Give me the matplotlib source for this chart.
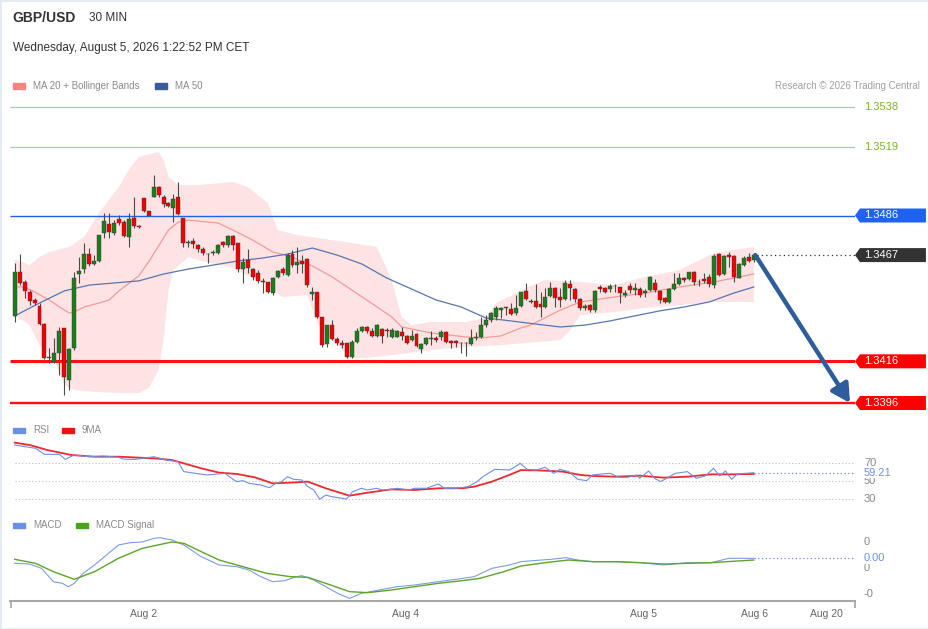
import numpy as np
import matplotlib
matplotlib.use("Agg")
import matplotlib.pyplot as plt
from matplotlib.patches import Rectangle, Polygon, FancyArrowPatch

plt.rcParams['font.family'] = ['Liberation Sans', 'DejaVu Sans']

# ------ Bougies 30 min GBP/USD ------
opens = [
    1.34378, 1.34589, 1.34541, 1.34493, 1.34454, 1.34426, 1.34339, 1.34176, 1.34157, 1.34200,
    1.34320, 1.34070, 1.34224, 1.34579, 1.34603, 1.34675, 1.34627, 1.34642, 1.34776, 1.34819,
    1.34776, 1.34843, 1.34829, 1.34757, 1.34848, 1.34810, 1.34944, 1.34882, 1.34949, 1.34997,
    1.34949, 1.34920, 1.34896, 1.34949, 1.34848, 1.34728, 1.34738, 1.34718, 1.34699, 1.34675,
    1.34680, 1.34680, 1.34733, 1.34718, 1.34762, 1.34728, 1.34603, 1.34646, 1.34603, 1.34584,
    1.34546, 1.34541, 1.34488, 1.34565, 1.34603, 1.34574, 1.34675, 1.34622, 1.34642, 1.34651,
    1.34483, 1.34493, 1.34373, 1.34243, 1.34334, 1.34267, 1.34248, 1.34248, 1.34181, 1.34253,
    1.34306, 1.34325, 1.34306, 1.34282, 1.34315, 1.34310, 1.34277, 1.34277, 1.34301, 1.34282,
    1.34262, 1.34291, 1.34219, 1.34243, 1.34267, 1.34272, 1.34277, 1.34301, 1.34258, 1.34258,
    1.34248, 1.34248, 1.34243, 1.34272, 1.34277, 1.34334, 1.34358, 1.34373, 1.34406, 1.34416,
    1.34411, 1.34392, 1.34426, 1.34498, 1.34450, 1.34450, 1.34435, 1.34421, 1.34474, 1.34512,
    1.34469, 1.34459, 1.34531, 1.34507, 1.34459, 1.34416, 1.34430, 1.34406, 1.34517, 1.34512,
    1.34507, 1.34522, 1.34517, 1.34478, 1.34522, 1.34502, 1.34507, 1.34488, 1.34502, 1.34536,
    1.34498, 1.34464, 1.34445, 1.34507, 1.34531, 1.34560, 1.34555, 1.34589, 1.34541, 1.34555,
    1.34565, 1.34526, 1.34675, 1.34579, 1.34670, 1.34666, 1.34560, 1.34622, 1.34661, 1.34646]
highs = [
    1.34632, 1.34675, 1.34550, 1.34502, 1.34464, 1.34440, 1.34344, 1.34224, 1.34272, 1.34325,
    1.34320, 1.34224, 1.34589, 1.34661, 1.34728, 1.34704, 1.34670, 1.34766, 1.34872, 1.34872,
    1.34838, 1.34862, 1.34838, 1.34872, 1.34949, 1.34814, 1.34944, 1.34862, 1.35054, 1.35002,
    1.34958, 1.34925, 1.34963, 1.35021, 1.34848, 1.34742, 1.34752, 1.34723, 1.34709, 1.34680,
    1.34694, 1.34723, 1.34738, 1.34766, 1.34766, 1.34728, 1.34656, 1.34699, 1.34608, 1.34598,
    1.34560, 1.34541, 1.34565, 1.34598, 1.34613, 1.34680, 1.34694, 1.34709, 1.34670, 1.34656,
    1.34517, 1.34493, 1.34373, 1.34334, 1.34358, 1.34277, 1.34262, 1.34248, 1.34262, 1.34320,
    1.34330, 1.34330, 1.34320, 1.34339, 1.34320, 1.34320, 1.34320, 1.34310, 1.34325, 1.34286,
    1.34310, 1.34296, 1.34248, 1.34277, 1.34306, 1.34282, 1.34310, 1.34306, 1.34262, 1.34262,
    1.34253, 1.34253, 1.34315, 1.34301, 1.34373, 1.34382, 1.34397, 1.34426, 1.34421, 1.34421,
    1.34440, 1.34478, 1.34493, 1.34536, 1.34459, 1.34531, 1.34493, 1.34512, 1.34541, 1.34517,
    1.34512, 1.34550, 1.34550, 1.34512, 1.34464, 1.34435, 1.34435, 1.34502, 1.34526, 1.34517,
    1.34531, 1.34531, 1.34517, 1.34502, 1.34536, 1.34536, 1.34517, 1.34507, 1.34570, 1.34555,
    1.34502, 1.34469, 1.34512, 1.34584, 1.34584, 1.34565, 1.34589, 1.34594, 1.34555, 1.34584,
    1.34579, 1.34675, 1.34680, 1.34670, 1.34685, 1.34670, 1.34632, 1.34666, 1.34680, 1.34675]
lows = [
    1.34349, 1.34526, 1.34464, 1.34430, 1.34430, 1.34334, 1.34171, 1.34152, 1.34152, 1.34094,
    1.33998, 1.34022, 1.34214, 1.34536, 1.34584, 1.34618, 1.34622, 1.34637, 1.34752, 1.34752,
    1.34766, 1.34814, 1.34757, 1.34709, 1.34800, 1.34800, 1.34877, 1.34877, 1.34949, 1.34949,
    1.34901, 1.34901, 1.34829, 1.34862, 1.34709, 1.34709, 1.34704, 1.34685, 1.34670, 1.34632,
    1.34670, 1.34675, 1.34709, 1.34709, 1.34694, 1.34589, 1.34536, 1.34584, 1.34550, 1.34536,
    1.34488, 1.34488, 1.34478, 1.34560, 1.34574, 1.34570, 1.34613, 1.34584, 1.34584, 1.34517,
    1.34454, 1.34368, 1.34229, 1.34229, 1.34262, 1.34238, 1.34224, 1.34176, 1.34176, 1.34248,
    1.34301, 1.34296, 1.34277, 1.34277, 1.34248, 1.34277, 1.34272, 1.34277, 1.34262, 1.34243,
    1.34258, 1.34229, 1.34200, 1.34238, 1.34238, 1.34253, 1.34262, 1.34248, 1.34224, 1.34229,
    1.34200, 1.34186, 1.34238, 1.34262, 1.34272, 1.34325, 1.34349, 1.34358, 1.34368, 1.34382,
    1.34382, 1.34382, 1.34421, 1.34454, 1.34440, 1.34416, 1.34373, 1.34416, 1.34469, 1.34421,
    1.34421, 1.34454, 1.34454, 1.34445, 1.34406, 1.34406, 1.34397, 1.34397, 1.34493, 1.34488,
    1.34493, 1.34493, 1.34440, 1.34469, 1.34488, 1.34478, 1.34469, 1.34469, 1.34498, 1.34493,
    1.34440, 1.34440, 1.34440, 1.34502, 1.34526, 1.34541, 1.34550, 1.34526, 1.34522, 1.34536,
    1.34517, 1.34512, 1.34570, 1.34574, 1.34613, 1.34541, 1.34560, 1.34618, 1.34637, 1.34637]
closes = [
    1.34589, 1.34536, 1.34498, 1.34450, 1.34440, 1.34339, 1.34176, 1.34178, 1.34200, 1.34306,
    1.34085, 1.34219, 1.34560, 1.34594, 1.34675, 1.34627, 1.34642, 1.34766, 1.34834, 1.34781,
    1.34824, 1.34824, 1.34762, 1.34843, 1.34810, 1.34805, 1.34882, 1.34858, 1.34997, 1.34958,
    1.34915, 1.34906, 1.34939, 1.34867, 1.34728, 1.34733, 1.34723, 1.34699, 1.34680, 1.34673,
    1.34685, 1.34718, 1.34718, 1.34762, 1.34718, 1.34603, 1.34637, 1.34608, 1.34565, 1.34546,
    1.34541, 1.34493, 1.34560, 1.34594, 1.34584, 1.34670, 1.34622, 1.34637, 1.34627, 1.34526,
    1.34493, 1.34373, 1.34238, 1.34334, 1.34267, 1.34248, 1.34238, 1.34181, 1.34253, 1.34306,
    1.34325, 1.34306, 1.34282, 1.34334, 1.34282, 1.34308, 1.34310, 1.34306, 1.34282, 1.34248,
    1.34282, 1.34234, 1.34243, 1.34272, 1.34272, 1.34262, 1.34301, 1.34253, 1.34248, 1.34248,
    1.34246, 1.34246, 1.34272, 1.34277, 1.34334, 1.34358, 1.34392, 1.34416, 1.34416, 1.34418,
    1.34387, 1.34416, 1.34493, 1.34459, 1.34445, 1.34421, 1.34421, 1.34469, 1.34512, 1.34464,
    1.34454, 1.34536, 1.34512, 1.34459, 1.34416, 1.34426, 1.34406, 1.34498, 1.34507, 1.34493,
    1.34522, 1.34520, 1.34488, 1.34488, 1.34502, 1.34512, 1.34478, 1.34498, 1.34565, 1.34502,
    1.34454, 1.34445, 1.34507, 1.34531, 1.34560, 1.34550, 1.34589, 1.34541, 1.34539, 1.34546,
    1.34531, 1.34666, 1.34574, 1.34666, 1.34661, 1.34565, 1.34627, 1.34656, 1.34642, 1.34670]

# ------ Moyennes mobiles et bandes de Bollinger ------
ma50_idx = [0, 5, 10, 15, 20, 25, 30, 35, 40, 45, 50, 55, 60, 65, 70, 75, 80, 85, 90, 95,
            100, 105, 110, 115, 120, 125, 130, 135, 140, 145, 149]
ma50 = [1.34378, 1.34440, 1.34498, 1.34526, 1.34536, 1.34546, 1.34579, 1.34603, 1.34622, 1.34642,
        1.34656, 1.34675, 1.34704, 1.34670, 1.34627, 1.34560, 1.34507, 1.34454, 1.34421, 1.34368,
        1.34354, 1.34339, 1.34325, 1.34334, 1.34354, 1.34378, 1.34402, 1.34421, 1.34445, 1.34488,
        1.34517]
ma20_idx = [0, 2, 4, 7, 9, 11, 12, 14, 17, 19, 21, 25, 27, 31, 33, 35, 41, 44, 48, 52,
            56, 58, 60, 64, 71, 76, 78, 84, 91, 94, 98, 102, 104, 110, 114, 121, 127, 134, 141, 149]
ma20 = [1.34517, 1.34517, 1.34493, 1.34454, 1.34421, 1.34392, 1.34397, 1.34421, 1.34440, 1.34454,
        1.34498, 1.34570, 1.34637, 1.34790, 1.34829, 1.34838, 1.34824, 1.34790, 1.34742, 1.34685,
        1.34661, 1.34637, 1.34618, 1.34565, 1.34454, 1.34373, 1.34325, 1.34296, 1.34277, 1.34272,
        1.34282, 1.34320, 1.34334, 1.34406, 1.34445, 1.34469, 1.34488, 1.34517, 1.34541, 1.34579]
bb_up_idx = [0, 3, 5, 7, 11, 14, 17, 21, 23, 25, 29, 30, 31, 33, 37, 44, 47, 51, 53, 57,
             61, 68, 73, 76, 78, 80, 84, 91, 95, 97, 100, 102, 107, 114, 121, 127, 134, 141, 149]
bb_up = [1.34651, 1.34622, 1.34661, 1.34685, 1.34709, 1.34757, 1.34872, 1.34997, 1.35078, 1.35141,
         1.35165, 1.35126, 1.35045, 1.35006, 1.35006, 1.35021, 1.34997, 1.34920, 1.34790, 1.34766,
         1.34752, 1.34728, 1.34709, 1.34550, 1.34373, 1.34334, 1.34349, 1.34349, 1.34368, 1.34440,
         1.34474, 1.34502, 1.34550, 1.34541, 1.34526, 1.34565, 1.34598, 1.34680, 1.34709]
bb_lo_idx = [0, 3, 5, 8, 10, 12, 17, 21, 25, 27, 29, 30, 31, 32, 35, 37, 44, 51, 54, 59,
             61, 64, 66, 68, 71, 76, 84, 91, 98, 110, 112, 114, 121, 127, 134, 141, 149]
bb_lo = [1.34382, 1.34334, 1.34238, 1.34166, 1.34046, 1.34022, 1.34012, 1.34008, 1.34008, 1.34032,
         1.34118, 1.34262, 1.34502, 1.34598, 1.34661, 1.34646, 1.34608, 1.34526, 1.34469, 1.34478,
         1.34344, 1.34262, 1.34214, 1.34176, 1.34176, 1.34190, 1.34214, 1.34229, 1.34238, 1.34262,
         1.34310, 1.34382, 1.34397, 1.34416, 1.34430, 1.34445, 1.34445]

# ------ Niveaux techniques ------
res_levels = [1.3538, 1.3519]
pivot_level = 1.3486
last_price = 1.3467
sup_levels = [1.3416, 1.3396]

# ------ RSI + moyenne 9 ------
rsi_idx = [0, 4.2, 6, 9, 10.2, 12, 14.9, 17.9, 20.9, 22.1, 24.5, 28.1, 30.5, 32.9, 34.1, 38.8,
           42.4, 44.2, 44.8, 46, 47.2, 49.6, 51.4, 52.6, 53.8, 55, 56.2, 57.9, 59.1, 60.3, 61.5,
           62.7, 63.9, 66.9, 68.1, 69.9, 71.1, 72.9, 74.1, 75.9, 77.1, 79.4, 80.6, 83, 85.4,
           86.6, 89, 91.4, 93.2, 94.4, 96.8, 99.7, 100.9, 101.9, 103.3, 105.1, 106.9, 108.7,
           109.9, 111.7, 113.5, 115.3, 116.5, 118.3, 120.1, 121.8, 123.6, 125.4, 126, 127.8,
           129, 130.2, 131.4, 133.2, 135.6, 137.4, 139.2, 140.9, 142.1, 143.3, 144.5, 145.7, 149]
rsi = [90.0, 86.3, 79.6, 79.6, 74.1, 78.9, 77.0, 77.8, 76.3, 74.1, 74.1, 77.0, 73.3, 71.5, 60.4,
       56.7, 58.5, 51.1, 49.3, 50.4, 47.4, 45.6, 42.6, 47.4, 49.3, 54.8, 51.9, 51.1, 43.7, 40.0,
       29.6, 34.4, 32.6, 30.0, 38.1, 41.9, 40.0, 41.9, 40.0, 40.7, 41.9, 40.0, 41.9, 41.9, 46.7,
       41.9, 41.9, 43.7, 49.3, 54.8, 63.0, 62.2, 65.9, 69.6, 63.0, 62.2, 65.2, 58.5, 63.0, 60.4,
       51.9, 50.4, 56.7, 57.8, 58.5, 54.1, 54.1, 56.7, 53.0, 61.1, 53.0, 49.3, 53.0, 58.5, 60.4,
       53.0, 55.6, 64.1, 55.6, 61.1, 51.9, 57.8, 59.21]
rsi9_idx = [0, 3, 6.6, 11.4, 16.1, 20.9, 28.1, 31.7, 34.1, 37.6, 41.2, 44.8, 48.4, 52, 55.6,
            59.1, 62.7, 67.5, 71.1, 75.9, 80.6, 85.4, 90.2, 92.6, 96.2, 99.7, 102.1, 106.9,
            110.5, 114.1, 116.5, 121.2, 126, 130.8, 135.6, 140.4, 145.1, 149]
rsi9 = [92.6, 90.0, 84.4, 78.9, 77.0, 77.0, 75.2, 73.3, 69.6, 64.1, 59.3, 57.8, 54.1, 47.4, 48.2,
        49.3, 41.9, 33.7, 37.0, 40.7, 40.0, 41.9, 41.9, 43.7, 49.3, 56.7, 62.2, 61.5, 60.4, 56.7,
        55.6, 54.8, 55.9, 53.7, 54.8, 57.4, 57.4, 57.8]
rsi_ticks = [70, 50, 30]

# ------ MACD ------
macd_idx = [0, 3, 5.4, 7.8, 9.6, 10.8, 12, 13.8, 16.1, 18.5, 20.9, 23.3, 25.7, 28.1, 29.3, 31.7,
            34.1, 37.6, 41.2, 44.8, 47.2, 49.6, 52, 54.4, 56.8, 57.9, 60.3, 62.7, 65.1, 67.5,
            69.9, 73.5, 77.1, 80.6, 85.4, 89, 92.6, 96.2, 99.7, 102.1, 104.5, 108.1, 111.1,
            113.5, 116.5, 121.2, 126, 130.8, 135.6, 140.4, 143.9, 149]
macd = [0.000183, 0.000157, -0.000013, -0.000536, -0.000601, -0.000732, -0.000601, -0.000209,
        0.000118, 0.000510, 0.000902, 0.000993, 0.001020, 0.001163, 0.001190, 0.001098, 0.000902,
        0.000444, 0.000118, 0.000052, -0.000078, -0.000340, -0.000536, -0.000497, -0.000340,
        -0.000301, -0.000471, -0.000732, -0.000993, -0.001190, -0.000993, -0.000863, -0.000732,
        -0.000667, -0.000536, -0.000444, -0.000340, -0.000013, 0.000118, 0.000248, 0.000288,
        0.000340, 0.000405, 0.000314, 0.000248, 0.000248, 0.000209, 0.000118, 0.000209, 0.000209,
        0.000379, 0.000379]
signal_idx = [0, 4.2, 7.8, 12, 16.1, 20.9, 25.7, 31.7, 34.1, 37.6, 41.2, 46, 50.8, 55.6, 59.1,
              62.7, 67.5, 71.1, 75.9, 80.6, 85.4, 90.2, 93.8, 98.6, 102.1, 106.9, 111.7, 116.5,
              121.2, 126, 130.8, 135.6, 140.4, 149]
signal = [0.000340, 0.000183, -0.000144, -0.000444, -0.000144, 0.000379, 0.000771, 0.001020,
          0.000967, 0.000641, 0.000314, 0.000052, -0.000209, -0.000340, -0.000366, -0.000601,
          -0.000928, -0.000967, -0.000863, -0.000732, -0.000601, -0.000497, -0.000405, -0.000144,
          0.000078, 0.000209, 0.000314, 0.000248, 0.000248, 0.000209, 0.000157, 0.000183,
          0.000209, 0.000314]
macd_ticks = [0.001, 0.0, -0.001]
macd_tick_labels = ['0', '0', '-0']

# ------ Axe du temps ------
date_pos = [25.9, 78.7, 126.7, 149.2, 163.6]
date_labels = ['Aug 2', 'Aug 4', 'Aug 5', 'Aug 6', 'Aug 20']

# ------ Couleurs ------
GREEN = '#1c7d1c'
RED = '#f00000'
BLUE_RSI = '#6f8fe3'
GRAY_TXT = '#8a8a8a'

W, H = 929, 629
fig = plt.figure(figsize=(W / 100, H / 100), dpi=100)


def box(left, top, right, bottom):
    # rectangle en pixels -> coordonnées de la figure
    return [left / W, 1 - bottom / H, (right - left) / W, (bottom - top) / H]


def fx(x):
    return x / W


def fy(y):
    return 1 - y / H


X_LEFT, X_RIGHT = -0.95, 169.4
TAG_X0, TAG_X1, TAG_XT = 170.4, 183.7, 171.2

ax = fig.add_axes(box(10, 95, 855, 415))
ax_rsi = fig.add_axes(box(10, 437, 855, 510))
ax_macd = fig.add_axes(box(10, 535, 855, 601))
for a in (ax, ax_rsi, ax_macd):
    a.set_xlim(X_LEFT, X_RIGHT)
    a.patch.set_alpha(0)
ax.set_ylim(1.339024, 1.354384)
ax_rsi.set_ylim(17.78, 98.89)
ax_macd.set_ylim(-0.001294, 0.001294)
ax.axis('off')
ax_rsi.axis('off')

# ------ Prix ------
x = np.arange(len(closes))
o = np.array(opens)
c = np.array(closes)
up = c >= o

ax.fill(np.r_[bb_up_idx, bb_lo_idx[::-1]], np.r_[bb_up, bb_lo[::-1]],
        color='#fde3e3', lw=0, zorder=1)
ax.plot(ma20_idx, ma20, color='#f39a9a', lw=0.9, zorder=2)
ax.plot(ma50_idx, ma50, color='#5577b0', lw=0.9, zorder=2)

ax.vlines(x, lows, highs, color='#4a4a4a', lw=0.8, zorder=3)
ax.bar(x, np.maximum(np.abs(c - o), 0.00003), bottom=np.minimum(o, c), width=0.8,
       color=np.where(up, GREEN, RED), edgecolor='#3a3a3a', linewidth=0.3, zorder=4)

for lvl in res_levels:
    ax.hlines(lvl, X_LEFT, X_RIGHT, color='#a6d47e', lw=0.9, zorder=2)
    ax.text(TAG_XT, lvl, f'{lvl:.4f}', color='#7db52a', fontsize=8, va='center', clip_on=False)
ax.hlines(pivot_level, X_LEFT, X_RIGHT, color='#1f62f2', lw=1.0, zorder=2)
ax.hlines(sup_levels[0], X_LEFT, X_RIGHT, color='#ff1010', lw=2.2, zorder=2)
ax.hlines(sup_levels[1], X_LEFT, X_RIGHT, color='#ff1010', lw=1.7, zorder=2)
ax.hlines(last_price, x[-1] + 0.6, X_RIGHT, color='#333333', lw=0.9,
          linestyles=(0, (1, 2.5)), zorder=2)


def price_tag(price, color):
    hh = 0.000336
    ax.add_patch(Polygon([(X_RIGHT, price), (TAG_X0, price + hh), (TAG_X1, price + hh),
                          (TAG_X1, price - hh), (TAG_X0, price - hh)],
                         closed=True, color=color, clip_on=False, lw=0))
    ax.text(TAG_XT, price, f'{price:.4f}', color='white', fontsize=8, va='center', clip_on=False)


price_tag(pivot_level, '#1f62f2')
price_tag(last_price, '#333333')
price_tag(sup_levels[0], '#ff0000')
price_tag(sup_levels[1], '#ff0000')

arrow = FancyArrowPatch((x[-1] + 0.3, last_price), (168.4, sup_levels[1]),
                        arrowstyle='-|>,head_length=0.55,head_width=0.3', mutation_scale=20,
                        color='#2f5d9c', lw=3.2, shrinkA=0, shrinkB=0, zorder=6, clip_on=False)
ax.add_patch(arrow)

# ------ RSI ------
ax_rsi.hlines(rsi_ticks, 0, X_RIGHT, color='#bdbdbd', lw=0.8, linestyles=(0, (1, 2)))
ax_rsi.plot(rsi9_idx, rsi9, color='#f0282d', lw=1.3)
ax_rsi.plot(rsi_idx, rsi, color=BLUE_RSI, lw=0.8)
ax_rsi.hlines(rsi[-1], rsi_idx[-1], X_RIGHT, color=BLUE_RSI, lw=0.9, linestyles=(0, (1, 2)))
for t in rsi_ticks:
    ax_rsi.text(TAG_XT, t, str(t), color=GRAY_TXT, fontsize=8, va='center', clip_on=False)
ax_rsi.text(TAG_XT, rsi[-1], f'{rsi[-1]:.2f}', color=BLUE_RSI, fontsize=8, va='center',
            clip_on=False, bbox=dict(facecolor='white', edgecolor='none', pad=0.3))

# ------ MACD ------
ax_macd.plot(macd_idx, macd, color='#7c9ce8', lw=0.8)
ax_macd.plot(signal_idx, signal, color='#5aa626', lw=1.0)
ax_macd.hlines(macd[-1], macd_idx[-1], X_RIGHT, color=BLUE_RSI, lw=0.9, linestyles=(0, (1, 2)))
for t, lab in zip(macd_ticks, macd_tick_labels):
    ax_macd.text(TAG_XT, t, lab, color=GRAY_TXT, fontsize=8, va='center', clip_on=False)
ax_macd.text(TAG_XT, macd[-1], f'{macd[-1]:.2f}', color=BLUE_RSI, fontsize=8, va='center',
             clip_on=False, bbox=dict(facecolor='white', edgecolor='none', pad=0.3))

for s in ('top', 'right', 'left'):
    ax_macd.spines[s].set_visible(False)
ax_macd.spines['bottom'].set_color('#a8a8a8')
ax_macd.spines['bottom'].set_linewidth(1.5)
ax_macd.set_yticks([])
ax_macd.set_xticks(date_pos)
ax_macd.set_xticklabels(date_labels)
ax_macd.tick_params(axis='x', length=0, pad=6, labelsize=7.5, labelcolor='#666666')
ax_macd.set_xticks([X_LEFT + 0.25, X_RIGHT - 0.1], minor=True)
ax_macd.tick_params(axis='x', which='minor', length=5, width=1.3, color='#a8a8a8')

# ------ Titres et légendes ------
fig.text(fx(12), fy(18), 'GBP/USD', fontsize=10, fontweight='bold', color='#333333', va='center')
fig.text(fx(89), fy(18), '30 MIN', fontsize=8.5, color='#333333', va='center')
fig.text(fx(13), fy(48), 'Wednesday, August 5, 2026 1:22:52 PM CET', fontsize=8.5,
         color='#333333', va='center')
fig.text(fx(920), fy(86), 'Research \u00a9 2026 Trading Central', fontsize=7, color='#a0a0a0',
         va='center', ha='right')


def legend_item(x0, y0, color, label):
    fig.add_artist(Rectangle((fx(x0), fy(y0 + 2.5)), 12 / W, 5 / H, color=color,
                             transform=fig.transFigure))
    fig.text(fx(x0 + 20), fy(y0), label, fontsize=7, color=GRAY_TXT, va='center')


legend_item(13, 86, '#ff8080', 'MA 20 + Bollinger Bands')
legend_item(155, 86, '#3b5b9a', 'MA 50')
legend_item(13, 430, '#6a8fe6', 'RSI')
legend_item(62, 430, '#ee1111', '9MA')
legend_item(13, 525, '#6a8fe6', 'MACD')
legend_item(76, 525, '#4aa31a', 'MACD Signal')

# cadre léger autour du graphique
fig.add_artist(Rectangle((0, 0), 1, 1, transform=fig.transFigure, fill=False,
                         edgecolor='#e3e9ef', lw=2))

fig.savefig('out.png', dpi=100)
